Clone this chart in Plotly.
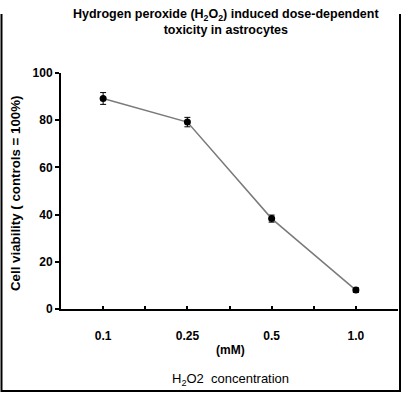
import plotly.graph_objects as go

concentrations = ["0.1", "0.25", "0.5", "1.0"]
viability = [89.2, 79.2, 38.3, 8.0]
error = [2.5, 2.0, 1.5, 1.0]
y_ticks = [0, 20, 40, 60, 80, 100]

W, H = 402, 393
L, R, T, B = 61, 4, 73, 84
PW, PH = W - L - R, H - T - B

def px(x):
    return (x - L) / PW

def py(y):
    return (H - B - y) / PH

xpos = [i + 1 for i in range(len(concentrations))]

FONT = "Arial, Liberation Sans, sans-serif"

fig = go.Figure()
fig.add_trace(go.Scatter(
    x=xpos, y=viability,
    mode="lines+markers",
    line=dict(color="#7a7a7a", width=1.5),
    marker=dict(color="black", size=7),
    error_y=dict(type="data", array=error, color="black", thickness=1, width=3),
    showlegend=False,
))

fig.update_layout(
    width=W, height=H,
    margin=dict(l=L, r=R, t=T, b=B),
    paper_bgcolor="white", plot_bgcolor="white",
    font=dict(family=FONT, color="black"),
    xaxis=dict(
        range=[0.5, 4.5], showgrid=False, zeroline=False,
        showline=True, linecolor="black", linewidth=2,
        tickmode="array", tickvals=xpos, ticktext=concentrations,
        ticks="inside", ticklen=3, tickwidth=1.5, tickcolor="black",
        minor=dict(tick0=0.5, dtick=1, ticks="inside", ticklen=3, tickwidth=1.5,
                   tickcolor="black", showgrid=False),
        tickfont=dict(size=12, family=FONT, weight="bold"),
        ticklabelstandoff=15,
    ),
    yaxis=dict(
        range=[0, 100], showgrid=False, zeroline=False,
        showline=True, linecolor="black", linewidth=2,
        tickmode="array", tickvals=y_ticks,
        ticks="outside", ticklen=4, tickwidth=1.5, tickcolor="black",
        tickfont=dict(size=12, family=FONT, weight="bold"),
    ),
    annotations=[
        dict(text="<b>Hydrogen peroxide (H<sub>2</sub>O<sub>2</sub>) induced dose-dependent<br>toxicity in astrocytes</b>",
             xref="paper", yref="paper", x=px(226), y=py(22), xanchor="center", yanchor="middle",
             showarrow=False, font=dict(size=12.5, family=FONT), align="center"),
        dict(text="<b>Cell viability ( controls = 100%)</b>", textangle=-90,
             xref="paper", yref="paper", x=px(15), y=py(194), xanchor="center", yanchor="middle",
             showarrow=False, font=dict(size=13.3, family=FONT)),
        dict(text="<b>(mM)</b>",
             xref="paper", yref="paper", x=px(230), y=py(350), xanchor="center", yanchor="middle",
             showarrow=False, font=dict(size=12, family=FONT)),
        dict(text="H<sub>2</sub>O2  concentration",
             xref="paper", yref="paper", x=px(230), y=py(379), xanchor="center", yanchor="middle",
             showarrow=False, font=dict(size=13, family=FONT)),
    ],
    shapes=[
        dict(type="path", xref="paper", yref="paper",
             path=f"M {px(1.5)},{py(14)} L {px(1.5)},{py(391)} L {px(400)},{py(391)} L {px(400)},{py(14)}",
             line=dict(color="black", width=2)),
    ],
)

fig.write_html("out.html",
               config={"displayModeBar": False},
               post_script="document.body.style.margin='0';document.body.style.overflow='hidden';")
